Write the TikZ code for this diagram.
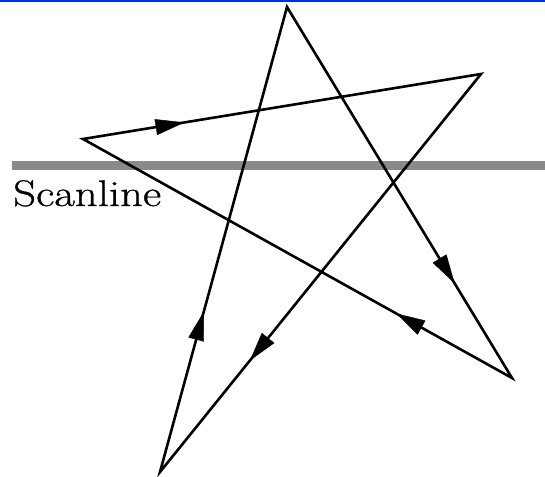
\documentclass[tikz,border=0pt]{standalone}
\usepackage{fontspec}
\newfontfamily\scanfont{Latin Modern Roman}[FakeBold=0.7]
\usetikzlibrary{arrows.meta,decorations.markings}

\definecolor{topblue}{HTML}{0033CC}
\definecolor{scangray}{HTML}{8A8A8A}

\begin{document}
\begin{tikzpicture}[x=1pt,y=1pt,
    edge/.style={line width=2.6pt,line join=miter},
    arrowat/.style={postaction={decorate},decoration={markings,
      mark=at position #1 with {\arrow{Triangle[length=29pt,width=16pt]}}}}]
  \useasboundingbox (0,0) rectangle (545,-476);
  \fill[topblue] (0,0) rectangle (545,-1.6);
  % scanline
  \coordinate (s1) at (12,-165.5);
  \coordinate (s2) at (545,-165.5);
  \draw[scangray,line width=9pt] (s1) -- (s2);
  \node[anchor=base west,inner sep=0pt,font=\scanfont\fontsize{37}{42}\selectfont,xscale=1.21] (lbl) at (13,-206) {Scanline};
  % star
  \coordinate (t) at (287,-7);
  \coordinate (br) at (512,-378);
  \coordinate (l) at (83,-139);
  \coordinate (r) at (481,-74);
  \coordinate (b) at (160,-472);
  \draw[edge] (t) -- (br) -- (l) -- (r) -- (b) -- cycle;
  \foreach \from/\to/\p in {t/br/0.745,br/l/0.27,l/r/0.255,r/b/0.72,b/t/0.345}
    \path[arrowat=\p] (\from) -- (\to);
\end{tikzpicture}
\end{document}
